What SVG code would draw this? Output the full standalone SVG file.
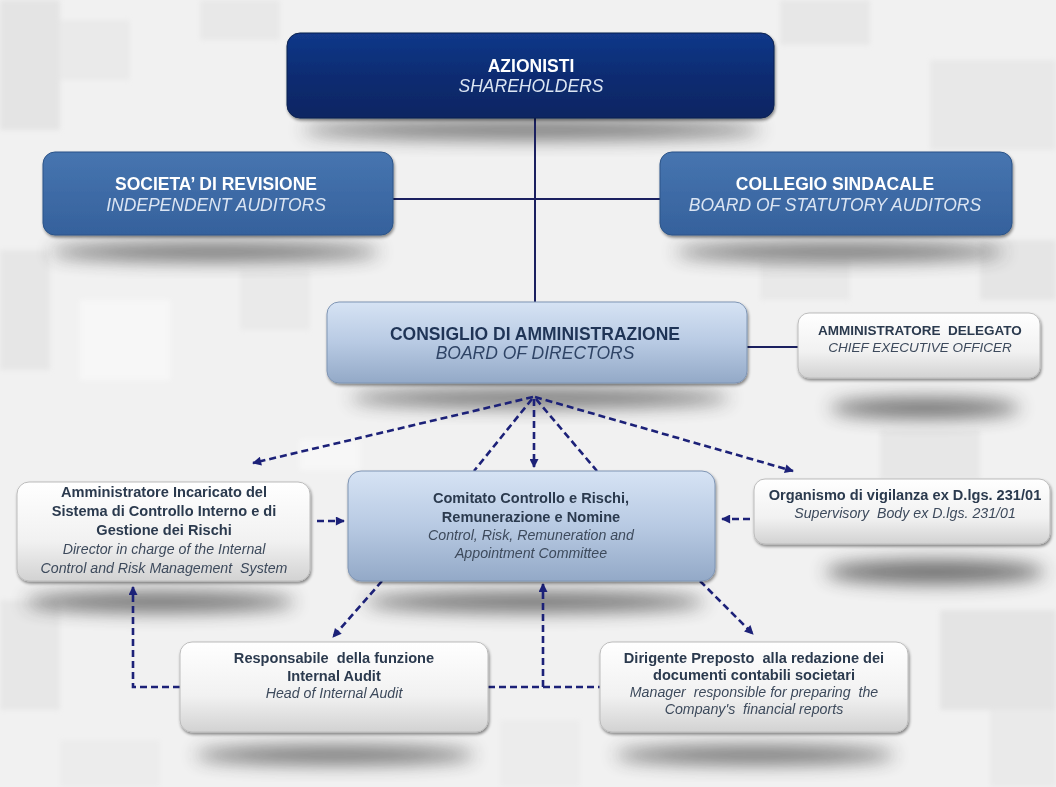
<svg xmlns="http://www.w3.org/2000/svg" width="1056" height="787" viewBox="0 0 1056 787">
<defs>
<style>
text{white-space:pre}
.hw{font:bold 17.5px "Liberation Sans",Arial,sans-serif;fill:#ffffff;text-anchor:middle}
.hi{font:italic 17.5px "Liberation Sans",Arial,sans-serif;fill:#dbe5f3;text-anchor:middle}
.bd{font:bold 17.5px "Liberation Sans",Arial,sans-serif;fill:#1f3456;text-anchor:middle}
.bi{font:italic 17.5px "Liberation Sans",Arial,sans-serif;fill:#2f4466;text-anchor:middle}
.cb{font:bold 13.5px "Liberation Sans",Arial,sans-serif;fill:#2b3a4e;text-anchor:middle}
.ci{font:italic 13.5px "Liberation Sans",Arial,sans-serif;fill:#3d4a5c;text-anchor:middle}
.lb{font:bold 14.6px "Liberation Sans",Arial,sans-serif;fill:#2b3a4e;text-anchor:middle}
.li{font:italic 14.2px "Liberation Sans",Arial,sans-serif;fill:#3d4a5c;text-anchor:middle}
.solid{stroke:#1b2060;stroke-width:2;fill:none}
.dash{stroke:#1c2178;stroke-width:2.6;fill:none;stroke-dasharray:7 4}
.arr{marker-end:url(#ah)}
.shadow{fill:#3a3a3a;filter:url(#blur)}
.tile{filter:url(#soft)}
</style>
<linearGradient id="gNavy" x1="0" y1="0" x2="0" y2="1">
<stop offset="0" stop-color="#12388a"/><stop offset="0.5" stop-color="#0c2c72"/><stop offset="1" stop-color="#0a2562"/>
</linearGradient>
<linearGradient id="gMid" x1="0" y1="0" x2="0" y2="1">
<stop offset="0" stop-color="#4775b0"/><stop offset="1" stop-color="#35619c"/>
</linearGradient>
<linearGradient id="gLight" x1="0" y1="0" x2="0" y2="1">
<stop offset="0" stop-color="#d6e3f4"/><stop offset="0.5" stop-color="#b8cae3"/><stop offset="1" stop-color="#93a9c7"/>
</linearGradient>
<linearGradient id="gWhite" x1="0" y1="0" x2="0" y2="1">
<stop offset="0" stop-color="#ffffff"/><stop offset="0.6" stop-color="#f1f1f1"/><stop offset="1" stop-color="#d2d2d2"/>
</linearGradient>
<filter id="blur" x="-30%" y="-100%" width="160%" height="300%"><feGaussianBlur stdDeviation="9"/></filter>
<filter id="soft" x="-20%" y="-20%" width="140%" height="140%"><feGaussianBlur stdDeviation="2.5"/></filter>
<filter id="ds" x="-10%" y="-10%" width="120%" height="130%"><feDropShadow dx="1" dy="2" stdDeviation="1.6" flood-color="#000" flood-opacity="0.45"/></filter>
<marker id="ah" viewBox="0 0 10 10" refX="9" refY="5" markerWidth="11" markerHeight="9" markerUnits="userSpaceOnUse" orient="auto">
<path d="M0,0 L10,5 L0,10 Z" fill="#1c2178"/>
</marker>
</defs>

<g id="background">
<rect x="0" y="0" width="1056" height="787" fill="#f1f1f1"/>
<g class="tile">
<rect x="0" y="0" width="60" height="130" fill="#e4e4e4"/>
<rect x="60" y="20" width="70" height="60" fill="#eaeaea"/>
<rect x="200" y="0" width="80" height="40" fill="#e8e8e8"/>
<rect x="780" y="0" width="90" height="45" fill="#e7e7e7"/>
<rect x="930" y="60" width="126" height="90" fill="#e8e8e8"/>
<rect x="0" y="250" width="50" height="120" fill="#e6e6e6"/>
<rect x="80" y="300" width="90" height="80" fill="#f7f7f7"/>
<rect x="240" y="270" width="70" height="60" fill="#eaeaea"/>
<rect x="760" y="260" width="90" height="40" fill="#e9e9e9"/>
<rect x="980" y="240" width="76" height="60" fill="#e5e5e5"/>
<rect x="880" y="430" width="100" height="50" fill="#e7e7e7"/>
<rect x="0" y="600" width="60" height="110" fill="#e7e7e7"/>
<rect x="940" y="610" width="116" height="100" fill="#e4e4e4"/>
<rect x="990" y="710" width="66" height="77" fill="#eaeaea"/>
<rect x="500" y="720" width="80" height="67" fill="#ececec"/>
<rect x="60" y="740" width="100" height="47" fill="#ececec"/>
<rect x="300" y="440" width="60" height="30" fill="#f7f7f7"/>
</g>
</g>

<g id="shadows" opacity="0.72">
<ellipse class="shadow" cx="532" cy="130" rx="230" ry="9"/>
<ellipse class="shadow" cx="215" cy="252" rx="165" ry="9"/>
<ellipse class="shadow" cx="840" cy="252" rx="165" ry="9"/>
<ellipse class="shadow" cx="540" cy="398" rx="190" ry="9"/>
<ellipse class="shadow" cx="925" cy="408" rx="95" ry="10"/>
<ellipse class="shadow" cx="160" cy="602" rx="135" ry="10"/>
<ellipse class="shadow" cx="535" cy="602" rx="170" ry="10"/>
<ellipse class="shadow" cx="935" cy="572" rx="110" ry="12"/>
<ellipse class="shadow" cx="335" cy="755" rx="140" ry="9"/>
<ellipse class="shadow" cx="755" cy="755" rx="140" ry="9"/>
</g>

<g id="connectors">
<line class="solid" x1="535" y1="118" x2="535" y2="302"/>
<line class="solid" x1="393" y1="199" x2="660" y2="199"/>
<line class="solid" x1="747" y1="347" x2="798" y2="347"/>
<line class="dash arr" x1="533" y1="397" x2="253" y2="463"/>
<line class="dash arr" x1="534" y1="399" x2="534" y2="467"/>
<line class="dash" x1="532" y1="399" x2="474" y2="471"/>
<line class="dash" x1="536" y1="399" x2="597" y2="471"/>
<line class="dash arr" x1="535" y1="397" x2="793" y2="471"/>
<line class="dash arr" x1="317" y1="521" x2="344" y2="521"/>
<line class="dash arr" x1="750" y1="519" x2="722" y2="519"/>
<line class="dash arr" x1="382" y1="581" x2="333" y2="637"/>
<line class="dash arr" x1="700" y1="581" x2="753" y2="634"/>
<path class="dash arr" d="M180,687 H133 V587"/>
<line class="dash" x1="488" y1="687" x2="600" y2="687"/>
<line class="dash arr" x1="543" y1="687" x2="543" y2="584"/>
</g>

<g id="azionisti">
<rect x="287" y="33" width="487" height="85" rx="13" fill="url(#gNavy)" stroke="#08204f" stroke-width="1" filter="url(#ds)"/>
<text class="hw" x="531" y="72">AZIONISTI</text>
<text class="hi" x="531" y="92">SHAREHOLDERS</text>
</g>

<g id="societa">
<rect x="43" y="152" width="350" height="83" rx="12" fill="url(#gMid)" stroke="#2c5488" stroke-width="1" filter="url(#ds)"/>
<text class="hw" x="216" y="190">SOCIETA’ DI REVISIONE</text>
<text class="hi" x="216" y="211">INDEPENDENT AUDITORS</text>
</g>

<g id="collegio">
<rect x="660" y="152" width="352" height="83" rx="12" fill="url(#gMid)" stroke="#2c5488" stroke-width="1" filter="url(#ds)"/>
<text class="hw" x="835" y="190">COLLEGIO SINDACALE</text>
<text class="hi" x="835" y="211">BOARD OF STATUTORY AUDITORS</text>
</g>

<g id="consiglio">
<rect x="327" y="302" width="420" height="81" rx="12" fill="url(#gLight)" stroke="#7f95b4" stroke-width="1" filter="url(#ds)"/>
<text class="bd" x="535" y="340">CONSIGLIO DI AMMINISTRAZIONE</text>
<text class="bi" x="535" y="359">BOARD OF DIRECTORS</text>
</g>

<g id="ceo">
<rect x="798" y="313" width="242" height="65" rx="11" fill="url(#gWhite)" stroke="#bcbcbc" stroke-width="1" filter="url(#ds)"/>
<text class="cb" x="920" y="335">AMMINISTRATORE  DELEGATO</text>
<text class="ci" x="920" y="352">CHIEF EXECUTIVE OFFICER</text>
</g>

<g id="amministratore-incaricato">
<rect x="17" y="482" width="293" height="99" rx="12" fill="url(#gWhite)" stroke="#bcbcbc" stroke-width="1" filter="url(#ds)"/>
<text class="lb" x="164" y="497">Amministratore Incaricato del</text>
<text class="lb" x="164" y="516">Sistema di Controllo Interno e di</text>
<text class="lb" x="164" y="535">Gestione dei Rischi</text>
<text class="li" x="164" y="554">Director in charge of the Internal</text>
<text class="li" x="164" y="573">Control and Risk Management  System</text>
</g>

<g id="comitato">
<rect x="348" y="471" width="367" height="110" rx="13" fill="url(#gLight)" stroke="#7f95b4" stroke-width="1" filter="url(#ds)"/>
<text class="lb" x="531" y="503">Comitato Controllo e Rischi,</text>
<text class="lb" x="531" y="522">Remunerazione e Nomine</text>
<text class="li" x="531" y="540">Control, Risk, Remuneration and</text>
<text class="li" x="531" y="558">Appointment Committee</text>
</g>

<g id="organismo">
<rect x="754" y="479" width="296" height="65" rx="11" fill="url(#gWhite)" stroke="#bcbcbc" stroke-width="1" filter="url(#ds)"/>
<text class="lb" x="905" y="500">Organismo di vigilanza ex D.lgs. 231/01</text>
<text class="li" x="905" y="518">Supervisory  Body ex D.lgs. 231/01</text>
</g>

<g id="internal-audit">
<rect x="180" y="642" width="308" height="90" rx="12" fill="url(#gWhite)" stroke="#bcbcbc" stroke-width="1" filter="url(#ds)"/>
<text class="lb" x="334" y="663">Responsabile  della funzione</text>
<text class="lb" x="334" y="681">Internal Audit</text>
<text class="li" x="334" y="698">Head of Internal Audit</text>
</g>

<g id="dirigente-preposto">
<rect x="600" y="642" width="308" height="90" rx="12" fill="url(#gWhite)" stroke="#bcbcbc" stroke-width="1" filter="url(#ds)"/>
<text class="lb" x="754" y="663">Dirigente Preposto  alla redazione dei</text>
<text class="lb" x="754" y="680">documenti contabili societari</text>
<text class="li" x="754" y="697">Manager  responsible for preparing  the</text>
<text class="li" x="754" y="714">Company's  financial reports</text>
</g>
</svg>
